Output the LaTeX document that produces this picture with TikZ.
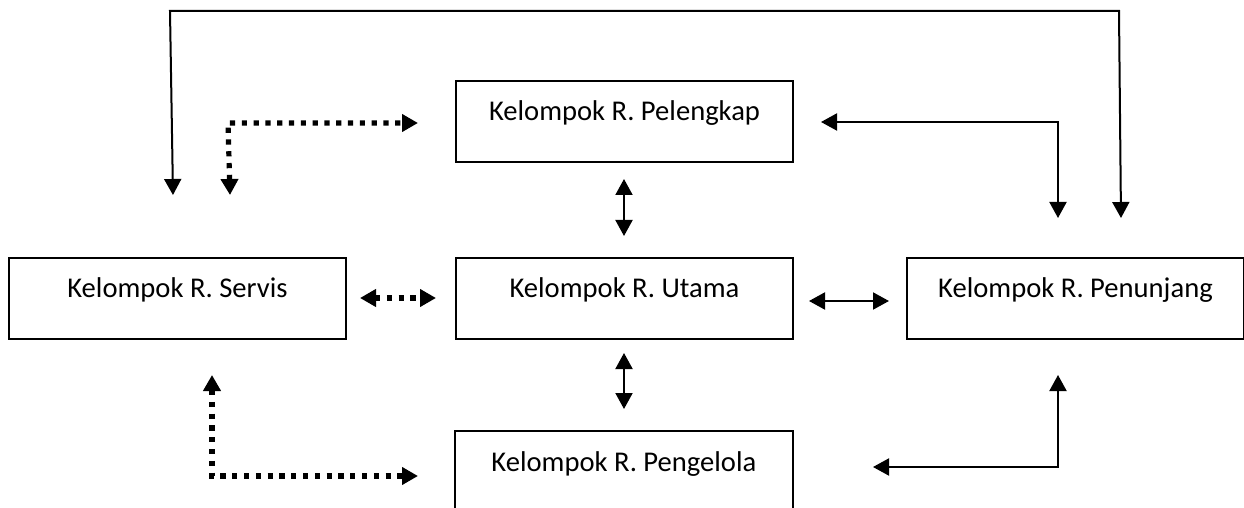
\documentclass[tikz,border=0pt]{standalone}
\usepackage{fontspec}
\setmainfont{Carlito}
\usetikzlibrary{arrows.meta}
\begin{document}
\begin{tikzpicture}[x=0.5pt,y=-0.5pt,
  roombox/.style={draw, line width=1pt, rectangle, anchor=north west,
    minimum width=168.5pt, inner xsep=0pt, inner ysep=0pt,
    text height=20pt, text depth=20.5pt, font=\fontsize{14.3}{16}\selectfont},
  roomtext/.style={rectangle, anchor=north west,
    minimum width=168.5pt, inner xsep=0pt, inner ysep=0pt,
    text height=20pt, text depth=18.5pt, font=\fontsize{14.3}{16}\selectfont},
  solidlink/.style={line width=1pt, {Triangle[length=8pt,width=8.5pt]}-{Triangle[length=8pt,width=8.5pt]}},
  dotlink/.style={line width=2.6pt, dash pattern=on 2.6pt off 3.3pt,
    {Triangle[length=8pt,width=8.5pt]}-{Triangle[length=8pt,width=8.5pt]}},
  ]
\useasboundingbox (0,0) rectangle (1244,508);

% room groups
\node[roombox] (pel) at (455,80) {Kelompok R. Pelengkap};
\node[roombox] (ser) at (8,257) {Kelompok R. Servis};
\node[roombox] (uta) at (455,257) {Kelompok R. Utama};
\node[roombox] (pen) at (906,257) {Kelompok R. Penunjang};
\node[roomtext] (gel) at (455,431) {Kelompok R. Pengelola};
\draw[line width=1pt] (gel.south west) -- (gel.north west) -- (gel.north east) -- (gel.south east);

% connector end points
\coordinate (loopA) at (173,195);
\coordinate (loopB) at (170,11);
\coordinate (loopC) at (1119,11);
\coordinate (loopD) at (1121,218);

\coordinate (plA) at (821,122);
\coordinate (plB) at (1058,122);
\coordinate (plC) at (1058,218);

\coordinate (spA) at (230,195);
\coordinate (spB) at (228,123);
\coordinate (spC) at (418,123);

\coordinate (puA) at (624,179);
\coordinate (puB) at (624,236);

\coordinate (suA) at (360,298);
\coordinate (suB) at (436,298);

\coordinate (upA) at (809,301);
\coordinate (upB) at (889,301);

\coordinate (ugA) at (624,353);
\coordinate (ugB) at (624,409);

\coordinate (sgA) at (212,375);
\coordinate (sgB) at (212,476);
\coordinate (sgC) at (418,476);

\coordinate (gpA) at (873,467);
\coordinate (gpB) at (1058,467);
\coordinate (gpC) at (1058,375);

% connectors
\draw[solidlink] (loopA) -- (loopB) -- (loopC) -- (loopD);
\draw[solidlink] (plA) -- (plB) -- (plC);
\draw[solidlink] (puA) -- (puB);
\draw[solidlink] (upA) -- (upB);
\draw[solidlink] (ugA) -- (ugB);
\draw[solidlink] (gpA) -- (gpB) -- (gpC);

\draw[dotlink] (spA) -- (spB) -- (spC);
\draw[dotlink] (suA) -- (suB);
\draw[dotlink] (sgA) -- (sgB) -- (sgC);
\end{tikzpicture}
\end{document}
